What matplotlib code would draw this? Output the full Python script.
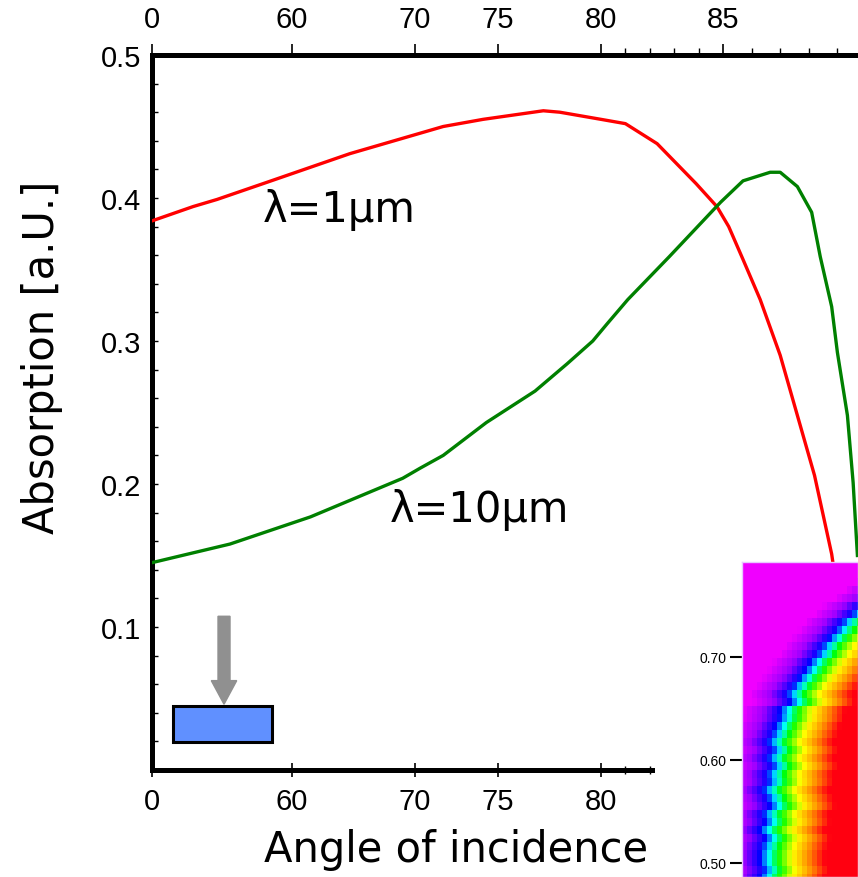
import numpy as np
import matplotlib
matplotlib.use("Agg")
import matplotlib.pyplot as plt
from matplotlib.colors import LinearSegmentedColormap
from matplotlib.patches import Rectangle, FancyArrow

# absorption curves (angle in degrees, absorption in a.U.)
angle_1um = [0, 17.6, 27.9, 49.3, 64.7, 71.7, 74.1, 77.2, 78.0, 80.0, 81.0,
             82.3, 83.9, 84.75, 85.2, 85.7, 86.3, 87.0, 87.7, 88.2, 88.8, 89.1]
abs_1um = [0.384, 0.394, 0.399, 0.411, 0.431, 0.450, 0.455, 0.461, 0.460, 0.455, 0.452,
           0.438, 0.410, 0.394, 0.380, 0.357, 0.329, 0.290, 0.241, 0.206, 0.151, 0.110]

angle_10um = [0, 33.4, 61.5, 69.0, 70.3, 71.7, 74.3, 76.8, 78.35, 79.6, 80.25, 81.1,
              82.8, 84.9, 85.7, 86.65, 87.0, 87.6, 88.1, 88.4, 88.8, 89.0, 89.35, 89.55, 89.7]
abs_10um = [0.145, 0.158, 0.177, 0.204, 0.211, 0.220, 0.243, 0.265, 0.284, 0.300, 0.312, 0.329,
            0.359, 0.397, 0.412, 0.418, 0.418, 0.408, 0.390, 0.359, 0.324, 0.292, 0.248, 0.201, 0.150]

x_ticks = [0, 60, 70, 75, 80, 85]
x_minor = [81, 82, 83, 84, 86, 87, 88, 89]
y_ticks = [0.1, 0.2, 0.3, 0.4, 0.5]
inset_ticks = [0.50, 0.60, 0.70]

# inset map: position of the blue ridge in each row (top to bottom)
inset_ridge = [160, 155, 150, 140, 130, 118, 110, 100, 94, 87, 80, 75, 68, 63, 57, 51,
               45, 48, 38, 37, 33, 30, 26, 30, 26, 30, 25, 26, 21, 25, 28, 21, 23, 18,
               23, 20, 18, 18, 21, 18]

# non-linear angle axis (angle -> position)
scale_angles = [-30, 0, 60, 70, 75, 80, 85, 90, 100]
scale_pos = [82, 152, 292, 415, 498, 601, 723, 866, 1152]


def fwd(a):
    return np.interp(a, scale_angles, scale_pos)


def inv(p):
    return np.interp(p, scale_pos, scale_angles)


tick_font = ['Liberation Sans', 'DejaVu Sans']
label_font = ['DejaVu Sans']

fig = plt.figure(figsize=(8.58, 8.78), dpi=100)
ax = fig.add_axes([152 / 858, 1 - 771 / 878, 1 - 152 / 858, (771 - 56) / 878])

ax.plot(angle_1um, abs_1um, color='#ff0000', lw=2.4, zorder=3)
ax.plot(angle_10um, abs_10um, color='#008000', lw=2.4, zorder=3)

ax.set_xscale('function', functions=(fwd, inv))
ax.set_xlim(0, inv(858))
ax.set_ylim(0, 0.5)

ax.set_xticks(x_ticks)
ax.set_xticks(x_minor, minor=True)
ax.set_xticklabels([str(t) for t in x_ticks], family=tick_font, fontsize=21)
ax.set_yticks(y_ticks)
ax.set_yticklabels(['%g' % t for t in y_ticks], family=tick_font, fontsize=21)
ax.set_yticks(np.arange(0.02, 0.5, 0.02), minor=True)

ax.tick_params(axis='x', which='major', direction='inout', length=10, width=1.2, pad=7)
ax.tick_params(axis='x', which='minor', direction='inout', length=6, width=1)
ax.tick_params(axis='y', which='both', direction='in', length=4, width=1, pad=8)

for s in ['left', 'top', 'bottom']:
    ax.spines[s].set_linewidth(3.6)
ax.spines['right'].set_visible(False)

# top axis with the same angle labels
top = ax.twiny()
top.set_xscale('function', functions=(fwd, inv))
top.set_xlim(ax.get_xlim())
top.set_xticks(x_ticks)
top.set_xticks(x_minor, minor=True)
top.set_xticklabels([str(t) for t in x_ticks], family=tick_font, fontsize=21)
top.tick_params(axis='x', which='major', direction='out', length=8, width=1.2, pad=8)
top.tick_params(axis='x', which='minor', direction='out', length=5, width=1)
for s in top.spines.values():
    s.set_visible(False)

ax.text(63.8, 0.384, 'λ=1µm', family=label_font, fontsize=30, ha='center', va='baseline')
ax.text(73.9, 0.174, 'λ=10µm', family=label_font, fontsize=30, ha='center', va='baseline')

fig.text(0.531, 0.032, 'Angle of incidence', family=label_font, fontsize=30,
         ha='center', va='center')
fig.text(0.049, 0.593, 'Absorption [a.U.]', family=label_font, fontsize=30,
         rotation=90, ha='center', va='center')

# sample sketch
ax.add_patch(FancyArrow(0.102, 0.215, 0, -0.123, width=0.017, head_width=0.036,
                        head_length=0.033, length_includes_head=True,
                        color='#909090', transform=ax.transAxes, zorder=4))
ax.add_patch(Rectangle((0.0297, 0.039), 0.140, 0.050, facecolor='#6090ff',
                       edgecolor='black', lw=2.2, transform=ax.transAxes, zorder=4))

# white backing of the inset
fig.patches.append(Rectangle((655 / 858, 0), 1 - 655 / 858, (878 - 563) / 878,
                             transform=fig.transFigure, facecolor='white',
                             edgecolor='none', zorder=5))

ins = fig.add_axes([742 / 858, 0, 116 / 858, (878 - 563) / 878], zorder=6)
y_top = 0.70 + (658 - 563) / 1030
y_bot = 0.70 - (883 - 658) / 1030
row_edges = np.linspace(y_top, y_bot, len(inset_ridge) + 1)
col_edges = np.arange(0, 125, 5)
col_mid = (col_edges[:-1] + col_edges[1:]) / 2
dist = col_mid[None, :] - np.array(inset_ridge)[:, None]
ramp_d = [-38, -17, 0, 9, 18, 32, 48, 65]
vals = np.interp(dist, ramp_d, np.linspace(0, 1, len(ramp_d)))
cmap = LinearSegmentedColormap.from_list(
    'ramp', ['#f000ff', '#a000ff', '#0000ff', '#00ffff', '#00ff00',
             '#ffff00', '#ff9000', '#ff0010'])
ins.pcolormesh(col_edges, row_edges, vals, cmap=cmap, vmin=0, vmax=1, shading='flat')
ins.set_xlim(0, 116)
ins.set_ylim(0.70 - (878 - 658) / 1030, y_top)
ins.set_xticks([])
ins.set_yticks(inset_ticks)
ins.set_yticklabels(['%.2f' % t for t in inset_ticks], family=tick_font, fontsize=10)
ins.tick_params(axis='y', direction='out', length=9, width=1.5, pad=2)
for s in ins.spines.values():
    s.set_color('#e8c8ff')
    s.set_linewidth(1)

fig.savefig('out.png', dpi=100)
